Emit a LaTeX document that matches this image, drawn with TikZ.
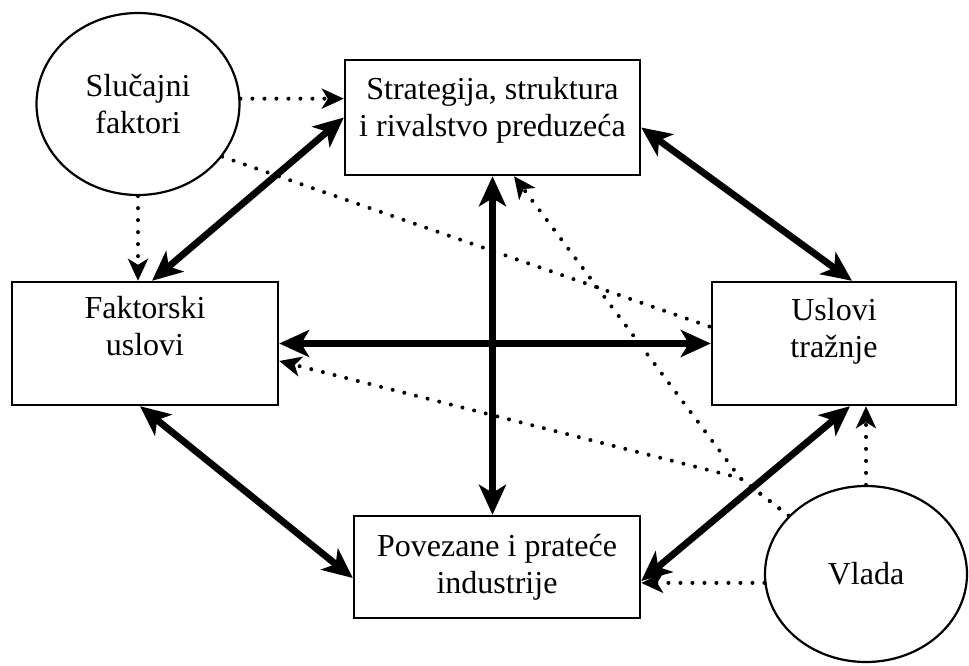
\documentclass[tikz,border=0pt]{standalone}
\usepackage{fontspec}
\setmainfont{Liberation Serif}
\usetikzlibrary{arrows.meta,shapes.geometric,calc}
\begin{document}
\begin{tikzpicture}[x=0.5pt,y=-0.5pt,
  box/.style={draw, line width=1.2pt, rectangle, inner sep=0pt},
  oval/.style={draw, line width=1.1pt, ellipse, inner sep=0pt, align=center,
    font=\fontsize{16pt}{18.5pt}\selectfont},
  lbl/.style={align=center, inner sep=0pt, font=\fontsize{16pt}{18.5pt}\selectfont},
  bighead/.tip={Stealth[length=15pt,width=13.5pt,inset=4pt]},
  smallhead/.tip={Stealth[length=11pt,width=10pt,inset=3pt]},
  strong/.style={line width=3.4pt, bighead-bighead},
  dots/.style={line width=2pt, line cap=round, dash pattern=on 0pt off 6pt},
  weak/.style={dots, -smallhead},
]
\fill[white] (0,0) rectangle (969,665);
\useasboundingbox (0,0) rectangle (969,665);

% the four boxes of the diamond
\node[box, minimum width=147.5pt, minimum height=57.5pt] (strat) at (492.5,117.5) {};
\node[box, minimum width=133pt,   minimum height=61.5pt] (fakt)  at (145,343.5) {};
\node[box, minimum width=122pt,   minimum height=61.5pt] (usl)   at (834,343.5) {};
\node[box, minimum width=143pt,   minimum height=51pt]   (pov)   at (497,567) {};

\node[lbl] (strat-t) at ([yshift=3.5pt]strat.center) {Strategija, struktura\\i rivalstvo preduzeća};
\node[lbl] (fakt-t)  at ([yshift=8.75pt]fakt.center) {Faktorski\\uslovi};
\node[lbl] (usl-t)   at ([yshift=6pt]usl.center) {Uslovi\\tražnje};
\node[lbl] (pov-t)   at (pov.center) {Povezane i prateće\\industrije};

% the two outside influences
\node[oval, minimum width=101.5pt, minimum height=91pt] (sf) at (138,104) {Slučajni\\faktori};
\node[oval, minimum width=101pt,  minimum height=88pt] (vlada) at (866,574) {Vlada};

% solid two-way links
\draw[strong] (strat.west) -- ([xshift=3.5pt]fakt.north);
\draw[strong] ([yshift=-5pt]strat.east) -- ([xshift=9pt]usl.north);
\draw[strong] (strat.south) -- (strat.south |- pov.north);
\draw[strong] (fakt.east) -- (usl.west);
\draw[strong] ([xshift=-2.5pt]fakt.south) -- ([yshift=-5.5pt]pov.west);
\draw[strong] ([xshift=8pt]usl.south) -- ([yshift=-7pt]pov.east);

% dotted influences of chance
\draw[weak] (sf.3) -- (strat.west |- sf.3);
\draw[weak] (sf.south) -- (sf.south |- fakt.north);
\draw[dots] (sf.-32) -- ([yshift=8.25pt]usl.west);

% dotted influences of government
\coordinate (J) at (740,478);
\draw[weak] (vlada.143) -- (J) -- ([xshift=10.75pt]strat.south);
\draw[weak] (vlada.143) -- (J) -- ([yshift=-8.75pt]fakt.east);
\draw[weak] (vlada.185) -- (pov.east |- vlada.185);
\draw[weak] (vlada.north) -- (vlada.north |- usl.south);
\end{tikzpicture}
\end{document}
